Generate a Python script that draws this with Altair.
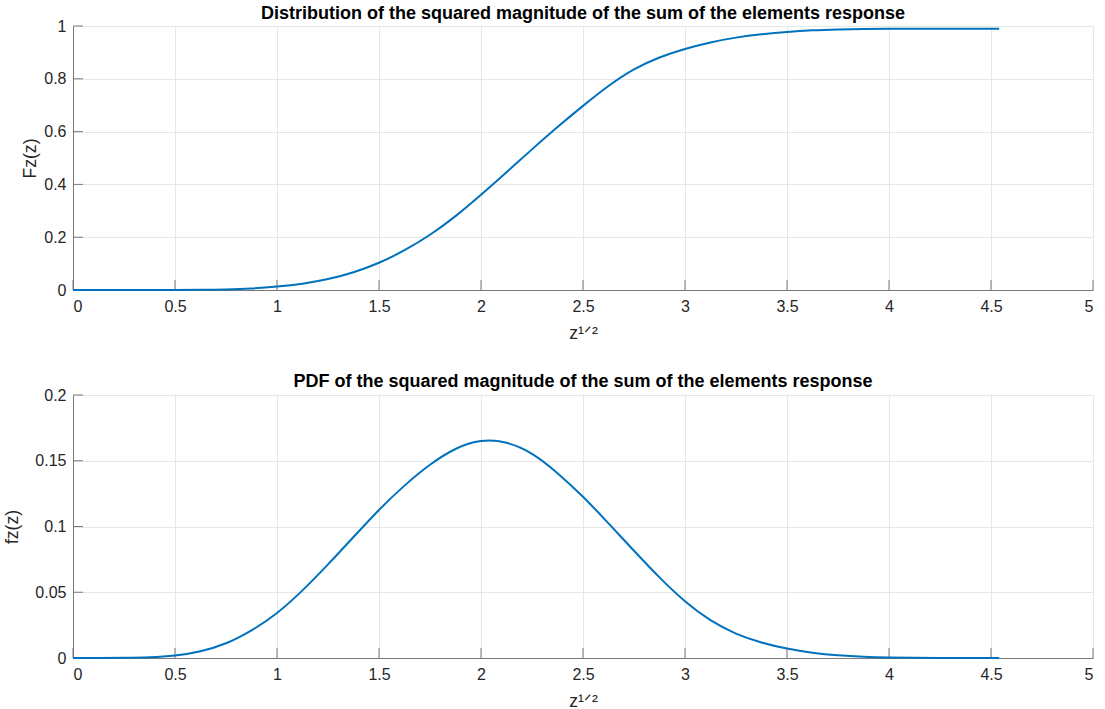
import altair as alt
import pandas as pd

# ---- data ----
x_ticks = [0, 0.5, 1, 1.5, 2, 2.5, 3, 3.5, 4, 4.5, 5]
cdf_y_ticks = [0, 0.2, 0.4, 0.6, 0.8, 1]
pdf_y_ticks = [0, 0.05, 0.1, 0.15, 0.2]

cdf_x = [0, 0.125, 0.25, 0.375, 0.5, 0.625, 0.75, 0.875, 1.0, 1.125, 1.25, 1.375,
         1.5, 1.625, 1.75, 1.875, 2.0, 2.125, 2.25, 2.375, 2.5, 2.625, 2.75, 2.875,
         3.0, 3.125, 3.25, 3.375, 3.5, 3.625, 3.75, 3.875, 4.0, 4.125, 4.25, 4.375,
         4.5, 4.54]
cdf_y = [0, 0, 0, 0, 0.0001, 0.0004, 0.0015, 0.005, 0.0125, 0.023, 0.040, 0.066,
         0.101, 0.149, 0.207, 0.278, 0.360, 0.446, 0.533, 0.618, 0.698, 0.775, 0.839, 0.883,
         0.914, 0.939, 0.957, 0.969, 0.978, 0.984, 0.987, 0.989, 0.990, 0.990, 0.990, 0.990,
         0.990, 0.990]

pdf_x = [0, 0.125, 0.25, 0.375, 0.5, 0.625, 0.75, 0.875, 1.0, 1.125, 1.25, 1.375,
         1.5, 1.625, 1.75, 1.875, 2.0, 2.125, 2.25, 2.375, 2.5, 2.625, 2.75, 2.875,
         3.0, 3.125, 3.25, 3.375, 3.5, 3.625, 3.75, 3.875, 4.0, 4.125, 4.25, 4.375,
         4.5, 4.54]
pdf_y = [0, 0, 0.0001, 0.0004, 0.0015, 0.0047, 0.0105, 0.0205, 0.0335, 0.051, 0.071, 0.092,
         0.113, 0.1315, 0.1475, 0.1600, 0.1662, 0.1648, 0.1565, 0.141, 0.123, 0.1025, 0.0815, 0.061,
         0.0425, 0.028, 0.018, 0.0115, 0.0069, 0.0038, 0.0019, 0.0008, 0.0003, 0.0001, 0, 0,
         0, 0]

FONT = "Liberation Sans"
TXT = "#262626"
AXC = "#7a7a7a"
GRID = "#e6e6e6"
BLUE = "#0072BD"
W = 1020


def panel(xs, ys, y_ticks, ymax, ytitle, title, ytpad, h, toff):
    df = pd.DataFrame({"x": xs, "y": ys})
    xenc = alt.X("x:Q", scale=alt.Scale(domain=[0, 5], nice=False, zero=False),
                 axis=alt.Axis(values=x_ticks, format="~g", title="z¹ᐟ²", tickSize=0,
                               labelPadding=8, titlePadding=10))
    yenc = alt.Y("y:Q", scale=alt.Scale(domain=[0, ymax], nice=False),
                 axis=alt.Axis(values=y_ticks, format="~g", title=ytitle, tickSize=0,
                               labelPadding=7, titlePadding=ytpad))
    line = alt.Chart(df).mark_line(color=BLUE, strokeWidth=2, interpolate="basis").encode(
        x=xenc, y=yenc)
    xt = alt.Chart(pd.DataFrame({"x": x_ticks, "y": [0] * len(x_ticks)})).mark_tick(
        orient="vertical", size=10, thickness=1, color=AXC, yOffset=-5, opacity=1
    ).encode(x=xenc, y=yenc)
    yt = alt.Chart(pd.DataFrame({"y": y_ticks, "x": [0] * len(y_ticks)})).mark_tick(
        orient="horizontal", size=10, thickness=1, color=AXC, xOffset=5, opacity=1
    ).encode(x=xenc, y=yenc)
    return alt.layer(xt, yt, line).properties(
        width=W, height=h,
        title=alt.TitleParams(title, fontSize=18, fontWeight="bold", font=FONT,
                              color="#000000", offset=toff, anchor="middle"))


top = panel(cdf_x, cdf_y, cdf_y_ticks, 1, "Fᴢ(z)",
            "Distribution of the squared magnitude of the sum of the elements response",
            4, 264, -5)
bottom = panel(pdf_x, pdf_y, pdf_y_ticks, 0.2, "fᴢ(z)",
               "PDF of the squared magnitude of the sum of the elements response",
               13, 263, -4)

chart = alt.vconcat(top, bottom, spacing=105, bounds="flush").configure_axis(
    labelFont=FONT, titleFont=FONT, labelFontSize=16, titleFontSize=17.6,
    labelColor=TXT, titleColor=TXT, titleFontWeight="normal",
    domainColor=AXC, domainWidth=1, gridColor=GRID, gridWidth=1,
).configure_view(strokeWidth=0).properties(
    padding={"left": 3, "top": 5, "right": 0, "bottom": 0})

chart.save("out.html", embed_options={"renderer": "svg", "actions": False})
